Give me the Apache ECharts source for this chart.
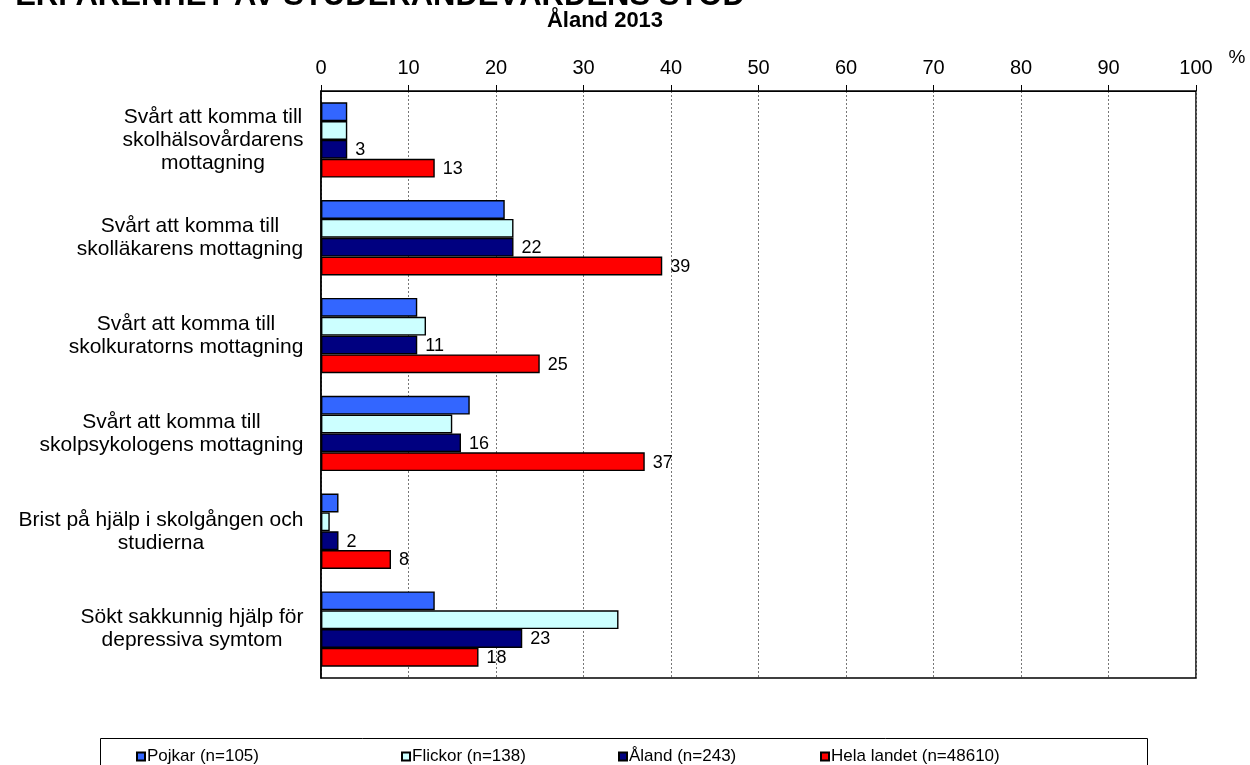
<!DOCTYPE html>
<html>
<head>
<meta charset="utf-8">
<script src="https://cdn.jsdelivr.net/npm/echarts@6/dist/echarts.min.js"></script>
<style>
  html, body { margin: 0; padding: 0; background: #fff; }
  #chart { width: 1250px; height: 765px; }
</style>
</head>
<body>
<div id="chart"></div>
<script>
// Categories (top to bottom)
const categories = [
  'Svårt att komma till\nskolhälsovårdarens\nmottagning',
  'Svårt att komma till\nskolläkarens mottagning',
  'Svårt att komma till\nskolkuratorns mottagning',
  'Svårt att komma till\nskolpsykologens mottagning',
  'Brist på hjälp i skolgången och\nstudierna',
  'Sökt sakkunnig hjälp för\ndepressiva symtom'
];

// Percentages per group
const pojkar = [3, 21, 11, 17, 2, 13];
const flickor = [3, 22, 12, 15, 1, 34];
const aland = [3, 22, 11, 16, 2, 23];
const helaLandet = [13, 39, 25, 37, 8, 18];

const seriesNames = ['Pojkar (n=105)', 'Flickor (n=138)', 'Åland (n=243)', 'Hela landet (n=48610)'];
const xTicks = [0, 10, 20, 30, 40, 50, 60, 70, 80, 90, 100];

const FONT = 'Arial, "Liberation Sans", sans-serif';
const LABEL_SIZE = 21;

// Category labels: each block is right-aligned to the axis, its lines centred
// within the width of the block's widest line.
const measureCtx = document.createElement('canvas').getContext('2d');
measureCtx.font = LABEL_SIZE + 'px ' + FONT;
const labelRich = {};
categories.forEach((c, i) => {
  const w = Math.max(...c.split('\n').map(l => measureCtx.measureText(l).width));
  labelRich['c' + i] = {
    width: Math.ceil(w) + 1, align: 'center',
    fontSize: LABEL_SIZE, fontFamily: FONT, color: '#000', lineHeight: 23
  };
});

const chart = echarts.init(document.getElementById('chart'));

function makeSeries(name, data, color, showLabel) {
  return {
    name: name,
    type: 'bar',
    data: data,
    barGap: '0%',
    barCategoryGap: '23%',
    itemStyle: { color: color, borderColor: '#000', borderWidth: 1.4 },
    label: {
      show: showLabel,
      position: 'right',
      distance: 8,
      offset: [0, 1],
      color: '#000',
      fontFamily: FONT,
      fontSize: 18
    },
    emphasis: { disabled: true },
    animation: false
  };
}

function legendAt(name, left) {
  return {
    data: [name],
    left: left,
    top: 743,
    icon: 'rect',
    itemWidth: 8,
    itemHeight: 8,
    itemGap: 4,
    textStyle: { fontFamily: FONT, fontSize: 17, color: '#000', padding: [0, 0, 0, -3] },
    selectedMode: false
  };
}

chart.setOption({
  backgroundColor: '#fff',
  animation: false,
  textStyle: { fontFamily: FONT },
  grid: {
    left: 321, right: 54, top: 91, bottom: 87,
    show: true, borderColor: '#000', borderWidth: 1.5, backgroundColor: 'transparent'
  },
  xAxis: {
    type: 'value',
    position: 'top',
    min: 0, max: 100, interval: 10,
    axisLine: { show: true, lineStyle: { color: '#000', width: 1 } },
    axisTick: { show: true, length: 6, lineStyle: { color: '#000' } },
    axisLabel: {
      margin: 13, fontSize: 20, color: '#000', fontFamily: FONT,
      formatter: v => xTicks.includes(v) ? String(v) : ''
    },
    splitLine: { show: true, lineStyle: { color: '#777', type: [2, 2], width: 1 } }
  },
  yAxis: {
    type: 'category',
    data: categories,
    inverse: true,
    axisLine: { show: true, lineStyle: { color: '#000', width: 1.5 } },
    axisTick: { show: false },
    axisLabel: {
      margin: 17, align: 'right',
      formatter: (v, i) => v.split('\n').map(l => '{c' + i + '|' + l + '}').join('\n'),
      rich: labelRich
    }
  },
  legend: [
    legendAt(seriesNames[0], 131),
    legendAt(seriesNames[1], 396),
    legendAt(seriesNames[2], 613),
    legendAt(seriesNames[3], 815)
  ],
  series: [
    makeSeries(seriesNames[0], pojkar, '#3366FF', false),
    makeSeries(seriesNames[1], flickor, '#CCFFFF', false),
    makeSeries(seriesNames[2], aland, '#000080', true),
    makeSeries(seriesNames[3], helaLandet, '#FF0000', true)
  ],
  graphic: [
    {
      // main heading, partly above the top edge of the canvas
      type: 'text',
      x: 380, y: -4,
      style: {
        text: 'ERFARENHET AV STUDERANDEVÅRDENS STÖD',
        align: 'center', verticalAlign: 'middle',
        font: 'bold 31px ' + FONT, fill: '#000'
      }
    },
    {
      type: 'text',
      x: 605, y: 21,
      style: {
        text: 'Åland 2013',
        align: 'center', verticalAlign: 'middle',
        font: 'bold 22px ' + FONT, fill: '#000'
      }
    },
    {
      type: 'text',
      x: 1237, y: 58,
      style: {
        text: '%',
        align: 'center', verticalAlign: 'middle',
        font: '19px ' + FONT, fill: '#000'
      }
    },
    {
      type: 'rect',
      shape: { x: 100.5, y: 738.5, width: 1047, height: 40 },
      style: { fill: 'none', stroke: '#000', lineWidth: 1 },
      z: -1
    }
  ]
});
</script>
</body>
</html>
